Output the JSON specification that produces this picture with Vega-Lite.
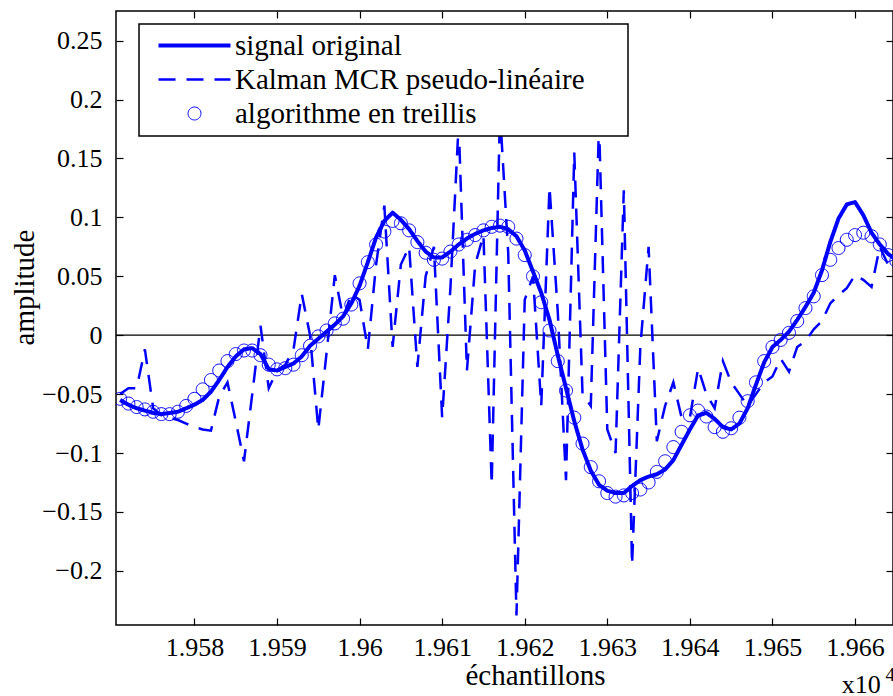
{
  "$schema": "https://vega.github.io/schema/vega-lite/v6.json",
  "width": 777,
  "height": 614,
  "autosize": {"type": "none"},
  "padding": {"left": 116, "top": 11, "right": 0, "bottom": 71},
  "background": "white",
  "config": {
    "view": {"stroke": "black", "strokeWidth": 1.5},
    "axis": {"grid": false, "domain": false, "ticks": true, "tickColor": "black", "tickWidth": 1.2, "tickSize": -7, "labelColor": "black", "labelFont": "Liberation Serif", "labelFontSize": 26, "titleFont": "Liberation Serif", "titleFontSize": 29, "titleFontWeight": "normal", "titleColor": "black", "labelOverlap": false, "labelFlush": false},
    "legend": {"orient": "none", "legendX": 23, "legendY": 13, "padding": 7, "fillColor": "white", "strokeColor": "black", "strokeWidth": 1.5, "labelFont": "Liberation Serif", "labelFontSize": 29, "labelColor": "black", "labelLimit": 700, "symbolSize": 324, "symbolOffset": 34, "labelOffset": 26, "rowPadding": 4, "symbolStrokeColor": "#0000ff", "symbolFillColor": "transparent", "symbolOpacity": 1}
  },
  "data": {"values": [
    {"n":19571,"signal":-0.055,"kalman":-0.050,"treillis":-0.054},
    {"n":19572,"signal":-0.059,"kalman":-0.045,"treillis":-0.058},
    {"n":19573,"signal":-0.062,"kalman":-0.045,"treillis":-0.061},
    {"n":19574,"signal":-0.064,"kalman":-0.012,"treillis":-0.063},
    {"n":19575,"signal":-0.066,"kalman":-0.062,"treillis":-0.065},
    {"n":19576,"signal":-0.067,"kalman":-0.068,"treillis":-0.067},
    {"n":19577,"signal":-0.066,"kalman":-0.070,"treillis":-0.067},
    {"n":19578,"signal":-0.065,"kalman":-0.072,"treillis":-0.065},
    {"n":19579,"signal":-0.062,"kalman":-0.075,"treillis":-0.060},
    {"n":19580,"signal":-0.059,"kalman":-0.078,"treillis":-0.054},
    {"n":19581,"signal":-0.055,"kalman":-0.080,"treillis":-0.046},
    {"n":19582,"signal":-0.048,"kalman":-0.081,"treillis":-0.038},
    {"n":19583,"signal":-0.038,"kalman":-0.052,"treillis":-0.030},
    {"n":19584,"signal":-0.027,"kalman":-0.040,"treillis":-0.022},
    {"n":19585,"signal":-0.018,"kalman":-0.073,"treillis":-0.016},
    {"n":19586,"signal":-0.012,"kalman":-0.107,"treillis":-0.013},
    {"n":19587,"signal":-0.011,"kalman":-0.050,"treillis":-0.013},
    {"n":19588,"signal":-0.016,"kalman":0.008,"treillis":-0.017},
    {"n":19589,"signal":-0.029,"kalman":-0.045,"treillis":-0.025},
    {"n":19590,"signal":-0.030,"kalman":-0.030,"treillis":-0.029},
    {"n":19591,"signal":-0.027,"kalman":-0.025,"treillis":-0.028},
    {"n":19592,"signal":-0.024,"kalman":-0.012,"treillis":-0.025},
    {"n":19593,"signal":-0.018,"kalman":0.035,"treillis":-0.017},
    {"n":19594,"signal":-0.009,"kalman":0.000,"treillis":-0.009},
    {"n":19595,"signal":-0.003,"kalman":-0.080,"treillis":-0.001},
    {"n":19596,"signal":0.003,"kalman":-0.015,"treillis":0.004},
    {"n":19597,"signal":0.009,"kalman":0.051,"treillis":0.010},
    {"n":19598,"signal":0.016,"kalman":0.015,"treillis":0.014},
    {"n":19599,"signal":0.027,"kalman":0.035,"treillis":0.026},
    {"n":19600,"signal":0.042,"kalman":0.030,"treillis":0.044},
    {"n":19601,"signal":0.062,"kalman":-0.012,"treillis":0.062},
    {"n":19602,"signal":0.083,"kalman":0.060,"treillis":0.077},
    {"n":19603,"signal":0.097,"kalman":0.110,"treillis":0.088},
    {"n":19604,"signal":0.104,"kalman":-0.010,"treillis":0.097},
    {"n":19605,"signal":0.098,"kalman":0.060,"treillis":0.095},
    {"n":19606,"signal":0.090,"kalman":0.075,"treillis":0.089},
    {"n":19607,"signal":0.080,"kalman":-0.027,"treillis":0.079},
    {"n":19608,"signal":0.071,"kalman":0.050,"treillis":0.070},
    {"n":19609,"signal":0.066,"kalman":0.075,"treillis":0.064},
    {"n":19610,"signal":0.066,"kalman":-0.070,"treillis":0.065},
    {"n":19611,"signal":0.071,"kalman":0.040,"treillis":0.071},
    {"n":19612,"signal":0.077,"kalman":0.180,"treillis":0.077},
    {"n":19613,"signal":0.082,"kalman":-0.030,"treillis":0.081},
    {"n":19614,"signal":0.086,"kalman":0.060,"treillis":0.085},
    {"n":19615,"signal":0.089,"kalman":0.085,"treillis":0.089},
    {"n":19616,"signal":0.091,"kalman":-0.127,"treillis":0.092},
    {"n":19617,"signal":0.092,"kalman":0.190,"treillis":0.093},
    {"n":19618,"signal":0.090,"kalman":0.070,"treillis":0.092},
    {"n":19619,"signal":0.084,"kalman":-0.238,"treillis":0.082},
    {"n":19620,"signal":0.072,"kalman":0.030,"treillis":0.068},
    {"n":19621,"signal":0.054,"kalman":0.050,"treillis":0.050},
    {"n":19622,"signal":0.036,"kalman":-0.060,"treillis":0.028},
    {"n":19623,"signal":0.013,"kalman":0.126,"treillis":0.004},
    {"n":19624,"signal":-0.017,"kalman":0.020,"treillis":-0.022},
    {"n":19625,"signal":-0.045,"kalman":-0.123,"treillis":-0.047},
    {"n":19626,"signal":-0.073,"kalman":0.155,"treillis":-0.070},
    {"n":19627,"signal":-0.097,"kalman":-0.050,"treillis":-0.092},
    {"n":19628,"signal":-0.115,"kalman":-0.060,"treillis":-0.112},
    {"n":19629,"signal":-0.127,"kalman":0.180,"treillis":-0.124},
    {"n":19630,"signal":-0.132,"kalman":-0.080,"treillis":-0.134},
    {"n":19631,"signal":-0.134,"kalman":-0.100,"treillis":-0.137},
    {"n":19632,"signal":-0.134,"kalman":0.123,"treillis":-0.136},
    {"n":19633,"signal":-0.128,"kalman":-0.195,"treillis":-0.134},
    {"n":19634,"signal":-0.123,"kalman":-0.010,"treillis":-0.131},
    {"n":19635,"signal":-0.120,"kalman":0.075,"treillis":-0.125},
    {"n":19636,"signal":-0.118,"kalman":-0.090,"treillis":-0.116},
    {"n":19637,"signal":-0.114,"kalman":-0.060,"treillis":-0.107},
    {"n":19638,"signal":-0.106,"kalman":-0.040,"treillis":-0.095},
    {"n":19639,"signal":-0.093,"kalman":-0.070,"treillis":-0.082},
    {"n":19640,"signal":-0.080,"kalman":-0.070,"treillis":-0.068},
    {"n":19641,"signal":-0.068,"kalman":-0.028,"treillis":-0.064},
    {"n":19642,"signal":-0.066,"kalman":-0.050,"treillis":-0.069},
    {"n":19643,"signal":-0.071,"kalman":-0.062,"treillis":-0.078},
    {"n":19644,"signal":-0.078,"kalman":-0.022,"treillis":-0.082},
    {"n":19645,"signal":-0.080,"kalman":-0.040,"treillis":-0.079},
    {"n":19646,"signal":-0.075,"kalman":-0.050,"treillis":-0.070},
    {"n":19647,"signal":-0.062,"kalman":-0.060,"treillis":-0.056},
    {"n":19648,"signal":-0.042,"kalman":-0.050,"treillis":-0.040},
    {"n":19649,"signal":-0.023,"kalman":-0.040,"treillis":-0.022},
    {"n":19650,"signal":-0.010,"kalman":-0.035,"treillis":-0.010},
    {"n":19651,"signal":-0.004,"kalman":-0.020,"treillis":-0.004},
    {"n":19652,"signal":0.003,"kalman":-0.031,"treillis":0.002},
    {"n":19653,"signal":0.013,"kalman":-0.010,"treillis":0.012},
    {"n":19654,"signal":0.024,"kalman":-0.005,"treillis":0.023},
    {"n":19655,"signal":0.036,"kalman":0.005,"treillis":0.033},
    {"n":19656,"signal":0.055,"kalman":0.012,"treillis":0.051},
    {"n":19657,"signal":0.079,"kalman":0.027,"treillis":0.064},
    {"n":19658,"signal":0.099,"kalman":0.034,"treillis":0.074},
    {"n":19659,"signal":0.111,"kalman":0.040,"treillis":0.081},
    {"n":19660,"signal":0.113,"kalman":0.051,"treillis":0.085},
    {"n":19661,"signal":0.102,"kalman":0.047,"treillis":0.087},
    {"n":19662,"signal":0.087,"kalman":0.041,"treillis":0.084},
    {"n":19663,"signal":0.077,"kalman":0.075,"treillis":0.077},
    {"n":19664,"signal":0.069,"kalman":0.060,"treillis":0.068},
    {"n":19665,"signal":0.064,"kalman":0.058,"treillis":0.063}
  ]},
  "layer": [
    {
      "data": {"values": [{}]},
      "mark": {"type": "rule", "color": "black", "strokeWidth": 1.2},
      "encoding": {
        "y": {"datum": 0, "type": "quantitative", "scale": {"domain": [-0.246, 0.2752], "nice": false, "zero": false},
              "axis": {"orient": "right", "labels": false, "title": null, "values": [-0.2,-0.15,-0.1,-0.05,0,0.05,0.1,0.15,0.2,0.25]}}
      }
    },
    {
      "transform": [{"fold": ["kalman"], "as": ["serie", "v"]}],
      "mark": {"type": "line", "clip": true},
      "encoding": {
        "x": {"field": "n", "type": "quantitative", "scale": {"domain": [19570.5, 19664.6], "nice": false, "zero": false},
              "axis": {"values": [19580,19590,19600,19610,19620,19630,19640,19650,19660], "labelExpr": "format(datum.value/10000, '.3~f')", "labelPadding": 16, "title": "échantillons", "titleX": 419, "titleY": 59, "titleAlign": "center", "titleBaseline": "alphabetic", "titleAnchor": null}},
        "y": {"field": "v", "type": "quantitative", "scale": {"domain": [-0.246, 0.2752], "nice": false, "zero": false},
              "axis": {"values": [-0.2,-0.15,-0.1,-0.05,0,0.05,0.1,0.15,0.2,0.25], "format": ".2~f", "labelPadding": 21, "title": "amplitude", "titleAngle": 270, "titleX": -83, "titleY": 276, "titleAlign": "center", "titleBaseline": "alphabetic", "titleAnchor": null}},
        "color": {"field": "serie", "type": "nominal", "scale": {"domain": ["signal","kalman","treillis"], "range": ["#0000ff","#0000ff","#0000ff"]},
                  "legend": {"title": null, "labelExpr": "datum.label === 'signal' ? 'signal original' : datum.label === 'kalman' ? 'Kalman MCR pseudo-linéaire\u00a0\u00a0\u00a0\u00a0\u00a0\u200b' : 'algorithme en treillis'"}},
        "strokeDash": {"field": "serie", "type": "nominal", "scale": {"domain": ["signal","kalman","treillis"], "range": [[1,0],[17,11],[1,0]]},
                  "legend": {"title": null, "labelExpr": "datum.label === 'signal' ? 'signal original' : datum.label === 'kalman' ? 'Kalman MCR pseudo-linéaire\u00a0\u00a0\u00a0\u00a0\u00a0\u200b' : 'algorithme en treillis'"}},
        "strokeWidth": {"field": "serie", "type": "nominal", "scale": {"domain": ["signal","kalman","treillis"], "range": [4,1,2.4]},
                  "legend": {"title": null, "labelExpr": "datum.label === 'signal' ? 'signal original' : datum.label === 'kalman' ? 'Kalman MCR pseudo-linéaire\u00a0\u00a0\u00a0\u00a0\u00a0\u200b' : 'algorithme en treillis'"}}
      }
    },
    {
      "transform": [{"fold": ["signal"], "as": ["serie", "v"]}],
      "mark": {"type": "line", "clip": true, "strokeJoin": "round", "strokeCap": "butt"},
      "encoding": {
        "x": {"field": "n", "type": "quantitative", "scale": {"domain": [19570.5, 19664.6], "nice": false, "zero": false}, "axis": null},
        "y": {"field": "v", "type": "quantitative", "scale": {"domain": [-0.246, 0.2752], "nice": false, "zero": false}, "axis": null},
        "color": {"field": "serie", "type": "nominal", "scale": {"domain": ["signal","kalman","treillis"], "range": ["#0000ff","#0000ff","#0000ff"]},
                  "legend": {"title": null, "labelExpr": "datum.label === 'signal' ? 'signal original' : datum.label === 'kalman' ? 'Kalman MCR pseudo-linéaire\u00a0\u00a0\u00a0\u00a0\u00a0\u200b' : 'algorithme en treillis'"}},
        "strokeDash": {"field": "serie", "type": "nominal", "scale": {"domain": ["signal","kalman","treillis"], "range": [[1,0],[17,11],[1,0]]},
                  "legend": {"title": null, "labelExpr": "datum.label === 'signal' ? 'signal original' : datum.label === 'kalman' ? 'Kalman MCR pseudo-linéaire\u00a0\u00a0\u00a0\u00a0\u00a0\u200b' : 'algorithme en treillis'"}},
        "strokeWidth": {"field": "serie", "type": "nominal", "scale": {"domain": ["signal","kalman","treillis"], "range": [4,1,2.4]},
                  "legend": {"title": null, "labelExpr": "datum.label === 'signal' ? 'signal original' : datum.label === 'kalman' ? 'Kalman MCR pseudo-linéaire\u00a0\u00a0\u00a0\u00a0\u00a0\u200b' : 'algorithme en treillis'"}}
      }
    },
    {
      "transform": [{"fold": ["treillis"], "as": ["serie", "v"]}],
      "mark": {"type": "point", "clip": true, "filled": false, "size": 324, "opacity": 1},
      "encoding": {
        "x": {"field": "n", "type": "quantitative", "scale": {"domain": [19570.5, 19664.6], "nice": false, "zero": false}, "axis": null},
        "y": {"field": "v", "type": "quantitative", "scale": {"domain": [-0.246, 0.2752], "nice": false, "zero": false}, "axis": null},
        "color": {"field": "serie", "type": "nominal", "scale": {"domain": ["signal","kalman","treillis"], "range": ["#0000ff","#0000ff","#0000ff"]},
                  "legend": {"title": null, "labelExpr": "datum.label === 'signal' ? 'signal original' : datum.label === 'kalman' ? 'Kalman MCR pseudo-linéaire\u00a0\u00a0\u00a0\u00a0\u00a0\u200b' : 'algorithme en treillis'"}},
        "shape": {"field": "serie", "type": "nominal", "scale": {"domain": ["signal","kalman","treillis"], "range": ["M-4,0H4","M-4,0H4","M0.72,0A0.72,0.72,0,1,1,-0.72,0A0.72,0.72,0,1,1,0.72,0Z"]},
                  "legend": {"title": null, "labelExpr": "datum.label === 'signal' ? 'signal original' : datum.label === 'kalman' ? 'Kalman MCR pseudo-linéaire\u00a0\u00a0\u00a0\u00a0\u00a0\u200b' : 'algorithme en treillis'"}},
        "strokeDash": {"field": "serie", "type": "nominal", "scale": {"domain": ["signal","kalman","treillis"], "range": [[1,0],[17,11],[1,0]]},
                  "legend": {"title": null, "labelExpr": "datum.label === 'signal' ? 'signal original' : datum.label === 'kalman' ? 'Kalman MCR pseudo-linéaire\u00a0\u00a0\u00a0\u00a0\u00a0\u200b' : 'algorithme en treillis'"}},
        "strokeWidth": {"field": "serie", "type": "nominal", "scale": {"domain": ["signal","kalman","treillis"], "range": [4,1,2.4]},
                  "legend": {"title": null, "labelExpr": "datum.label === 'signal' ? 'signal original' : datum.label === 'kalman' ? 'Kalman MCR pseudo-linéaire\u00a0\u00a0\u00a0\u00a0\u00a0\u200b' : 'algorithme en treillis'"}}
      }
    },
    {
      "data": {"values": [{}]},
      "mark": {"type": "text", "text": "x10", "font": "Liberation Serif", "fontSize": 26, "align": "left", "baseline": "alphabetic", "color": "black"},
      "encoding": {
        "x": {"datum": 19658.4, "type": "quantitative", "scale": {"domain": [19570.5, 19664.6], "nice": false, "zero": false},
              "axis": {"orient": "top", "labels": false, "title": null, "values": [19580,19590,19600,19610,19620,19630,19640,19650,19660]}},
        "y": {"datum": -0.304, "type": "quantitative", "scale": {"domain": [-0.246, 0.2752], "nice": false, "zero": false}, "axis": null}
      }
    },
    {
      "data": {"values": [{}]},
      "mark": {"type": "text", "text": "4", "font": "Liberation Serif", "fontSize": 19, "align": "left", "baseline": "alphabetic", "color": "black"},
      "encoding": {
        "x": {"datum": 19663.7, "type": "quantitative", "scale": {"domain": [19570.5, 19664.6], "nice": false, "zero": false}, "axis": null},
        "y": {"datum": -0.2935, "type": "quantitative", "scale": {"domain": [-0.246, 0.2752], "nice": false, "zero": false}, "axis": null}
      }
    }
  ],
  "resolve": {"axis": {"x": "independent", "y": "independent"}}
}
